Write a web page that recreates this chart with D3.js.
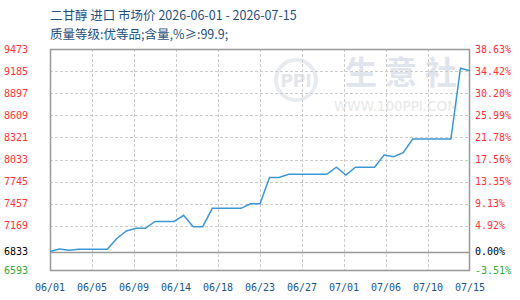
<!DOCTYPE html>
<html><head><meta charset="utf-8">
<script src="https://cdn.jsdelivr.net/npm/d3@7/dist/d3.min.js"></script>
<style>
html,body{margin:0;padding:0;background:#fff;}
svg{display:block;}
</style></head>
<body><svg id="c" width="520" height="300"></svg>
<script>
const titleLine1 = "二甘醇 进口 市场价 2026-06-01 - 2026-07-15";
const titleLine2 = "质量等级:优等品;含量,%≥:99.9;";
const xTickLabels = ["06/01","06/05","06/09","06/14","06/18","06/23","06/27","07/01","07/06","07/10","07/15"];
const yTickValues = [9473,9185,8897,8609,8321,8033,7745,7457,7169,6833,6593];
const yTickPercents = ["38.63%","34.42%","30.20%","25.99%","21.78%","17.56%","13.35%","9.13%","4.92%","0.00%","-3.51%"];
const baseValue = 6833;
// daily price 06/01 .. 07/15
const dayIndex = d3.range(45);
const prices = [6833,6865,6852,6862,6862,6862,6862,7004,7102,7137,
                7137,7226,7226,7226,7306,7158,7158,7397,7397,7397,
                7397,7457,7457,7800,7800,7840,7840,7840,7840,7840,
                7932,7831,7932,7932,7932,8092,8070,8122,8300,8300,
                8300,8300,8300,9222,9190];

const svg = d3.select("#c");
const L=50, R=470, T=49, B=270;
const x = d3.scaleLinear().domain([0,44]).range([L,R]);
const y = d3.scaleLinear().domain([6593,9473]).range([B,T]);

// watermark
const wm = svg.append("g");
wm.append("circle").attr("cx",296).attr("cy",80).attr("r",20).attr("fill","none").attr("stroke","#e8ebf0").attr("stroke-width",4);
wm.append("text").attr("x",296).attr("y",87).attr("text-anchor","middle").attr("font-family","DejaVu Sans").attr("font-weight","bold").attr("font-size",17).attr("fill","#e2e5ea").text("PPI");
wm.append("text").attr("x",345).attr("y",84).attr("font-family","Noto Sans CJK SC").attr("font-weight","bold").attr("font-size",32).attr("letter-spacing",8).attr("fill","#dfe4ed").text("生意社");
wm.append("text").attr("x",334).attr("y",111).attr("font-family","DejaVu Sans").attr("font-size",13.5).attr("fill","#e8e8e8").text("WWW.100PPI.COM");

// grid
const xTicks = xTickLabels.map((_,i)=>i*44/10);
svg.append("g").selectAll("line").data(xTicks.slice(1,-1)).join("line")
  .attr("x1",d=>x(d)).attr("x2",d=>x(d)).attr("y1",T).attr("y2",B)
  .attr("stroke","#cccccc").attr("stroke-dasharray","3,2").attr("shape-rendering","crispEdges");
svg.append("g").selectAll("line").data(yTickValues.filter(v=>v!==9473&&v!==6593&&v!==baseValue)).join("line")
  .attr("x1",L).attr("x2",R).attr("y1",d=>Math.round(y(d))+0.5).attr("y2",d=>Math.round(y(d))+0.5)
  .attr("stroke","#cccccc").attr("stroke-dasharray","3,2");

// frame
svg.append("rect").attr("x",L+0.5).attr("y",T+0.5).attr("width",R-L-1).attr("height",B-T)
  .attr("fill","none").attr("stroke","#999999").attr("stroke-width",1.5);
svg.append("line").attr("x1",L).attr("x2",R).attr("y1",Math.round(y(baseValue))+0.5).attr("y2",Math.round(y(baseValue))+0.5)
  .attr("stroke","#999999").attr("stroke-width",1.5);

// line
svg.append("path").datum(dayIndex)
  .attr("fill","none").attr("stroke","#3d97d4").attr("stroke-width",1.5)
  .attr("d", d3.line().x(d=>x(d)).y(d=>y(prices[d])));

// y labels
const colorFor = v => v>baseValue ? "#ff3333" : (v<baseValue ? "#33aa33" : "#000000");
svg.append("g").selectAll("text").data(yTickValues).join("text")
  .attr("x",28).attr("y",d=>y(d)+3.5).attr("text-anchor","end")
  .attr("font-family","DejaVu Sans Mono").attr("font-size",10)
  .attr("fill",colorFor).text(d=>d);
svg.append("g").selectAll("text").data(yTickValues).join("text")
  .attr("x",475).attr("y",d=>y(d)+3.5).attr("text-anchor","start")
  .attr("font-family","DejaVu Sans Mono").attr("font-size",10)
  .attr("fill",colorFor).text((d,i)=>yTickPercents[i]);

// x labels
svg.append("g").selectAll("text").data(xTicks).join("text")
  .attr("x",d=>x(d)).attr("y",291).attr("text-anchor","middle")
  .attr("font-family","DejaVu Sans Mono").attr("font-size",10)
  .attr("fill","#1b5588").text((d,i)=>xTickLabels[i]);

// titles
svg.append("text").attr("x",50).attr("y",20).attr("font-family","Noto Sans CJK SC").attr("font-size",12.5).attr("fill","#1f4f7d").text(titleLine1);
svg.append("text").attr("x",50).attr("y",39).attr("font-family","Noto Sans CJK SC").attr("font-size",12.5).attr("fill","#1f4f7d").text(titleLine2);
</script>
</body></html>
